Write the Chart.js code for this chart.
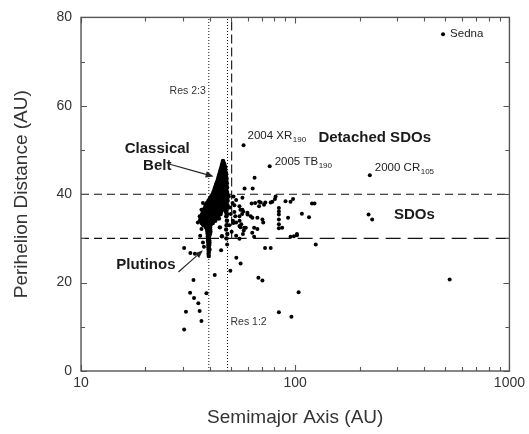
<!DOCTYPE html>
<html><head><meta charset="utf-8">
<script src="https://cdn.jsdelivr.net/npm/chart.js@4/dist/chart.umd.min.js"></script>
<style>html,body{margin:0;padding:0;background:#fff}</style>
</head><body>
<canvas id="c" width="529" height="434"></canvas>
<script>
// ---- data: [semimajor axis a (AU), perihelion distance q (AU)] ----
const classicalBelt = [
 [46.0,47.5],
 [45.8,47.0],[46.4,47.0],
 [45.5,46.5],[46.2,46.5],[46.8,46.5],
 [45.2,46.0],[45.9,46.0],[46.6,46.0],[47.1,46.0],
 [44.9,45.5],[45.6,45.5],[46.3,45.5],[47.0,45.5],
 [44.6,45.0],[45.3,45.0],[46.0,45.0],[46.7,45.0],[47.3,45.0],
 [44.3,44.5],[45.0,44.5],[45.7,44.5],[46.4,44.5],[47.1,44.5],[47.6,44.5],
 [44.0,44.0],[44.7,44.0],[45.4,44.0],[46.1,44.0],[46.8,44.0],[47.5,44.0],
 [43.7,43.5],[44.4,43.5],[45.1,43.5],[45.8,43.5],[46.5,43.5],[47.2,43.5],[47.8,43.5],
 [43.4,43.0],[44.1,43.0],[44.8,43.0],[45.5,43.0],[46.2,43.0],[46.9,43.0],[47.6,43.0],
 [43.0,42.5],[43.7,42.5],[44.4,42.5],[45.1,42.5],[45.8,42.5],[46.5,42.5],[47.2,42.5],[47.9,42.5],
 [42.7,42.0],[43.4,42.0],[44.1,42.0],[44.8,42.0],[45.5,42.0],[46.2,42.0],[46.9,42.0],[47.6,42.0],
 [42.3,41.5],[43.0,41.5],[43.7,41.5],[44.4,41.5],[45.1,41.5],[45.8,41.5],[46.5,41.5],[47.2,41.5],[48.0,41.5],
 [42.0,41.0],[42.7,41.0],[43.4,41.0],[44.1,41.0],[44.8,41.0],[45.5,41.0],[46.2,41.0],[46.9,41.0],[47.6,41.0],
 [41.6,40.5],[42.3,40.5],[43.0,40.5],[43.7,40.5],[44.4,40.5],[45.1,40.5],[45.8,40.5],[46.5,40.5],[47.2,40.5],[48.0,40.5],
 [41.2,40.0],[41.9,40.0],[42.6,40.0],[43.3,40.0],[44.0,40.0],[44.7,40.0],[45.4,40.0],[46.1,40.0],[46.8,40.0],[47.5,40.0],[48.2,40.0],
 [40.6,39.5],[41.3,39.5],[42.0,39.5],[42.7,39.5],[43.4,39.5],[44.1,39.5],[44.8,39.5],[45.5,39.5],[46.2,39.5],[46.9,39.5],[47.6,39.5],
 [40.0,39.0],[40.8,39.0],[41.6,39.0],[42.4,39.0],[43.2,39.0],[44.0,39.0],[44.8,39.0],[45.6,39.0],[46.4,39.0],[47.2,39.0],[48.0,39.0],
 [39.4,38.5],[40.3,38.5],[41.1,38.5],[41.9,38.5],[42.7,38.5],[43.5,38.5],[44.3,38.5],[45.1,38.5],[45.9,38.5],[46.7,38.5],[47.5,38.5],[48.3,38.5],
 [38.8,38.0],[39.6,38.0],[40.5,38.0],[41.3,38.0],[42.1,38.0],[42.9,38.0],[43.7,38.0],[44.5,38.0],[45.3,38.0],[46.1,38.0],[46.9,38.0],[47.7,38.0],
 [38.3,37.5],[39.2,37.5],[40.0,37.5],[40.8,37.5],[41.6,37.5],[42.4,37.5],[43.2,37.5],[44.0,37.5],[44.8,37.5],[45.6,37.5],[46.4,37.5],[47.2,37.5],[48.2,37.5],
 [38.0,37.0],[38.9,37.0],[39.7,37.0],[40.5,37.0],[41.3,37.0],[42.1,37.0],[42.9,37.0],[43.7,37.0],[44.6,37.0],[45.5,37.0],[47.0,37.0],[48.0,37.0],
 [37.5,36.5],[38.4,36.5],[39.3,36.5],[40.1,36.5],[40.9,36.5],[41.7,36.5],[42.5,36.5],[43.3,36.5],[44.2,36.5],[45.2,36.5],[46.5,36.5],[47.8,36.5],
 [37.2,36.0],[38.1,36.0],[39.0,36.0],[39.8,36.0],[40.6,36.0],[41.4,36.0],[42.2,36.0],[43.0,36.0],[43.9,36.0],[45.0,36.0],[47.6,36.0],
 [36.8,35.5],[37.8,35.5],[38.7,35.5],[39.5,35.5],[40.3,35.5],[41.1,35.5],[41.9,35.5],[42.7,35.5],[43.6,35.5],[44.8,35.5],[48.0,35.5],
 [36.5,35.0],[37.5,35.0],[38.5,35.0],[39.3,35.0],[40.1,35.0],[40.9,35.0],[41.7,35.0],[42.6,35.0],[43.5,35.0],[47.7,35.0],
 [36.2,34.5],[37.2,34.5],[38.2,34.5],[39.1,34.5],[39.9,34.5],[40.7,34.5],[41.6,34.5],[42.5,34.5],[44.0,34.5],
 [36.0,34.0],[37.0,34.0],[38.0,34.0],[39.0,34.0],[39.7,34.0],[40.5,34.0],[41.4,34.0],[42.3,34.0],[48.0,34.0],
 [36.6,33.5],[37.8,33.5],[38.8,33.5],[39.5,33.5],[40.3,33.5],[41.2,33.5]
];
const plutinos = [
 [37.3,33.0],[38.6,33.0],[39.4,33.0],[40.2,33.0],[47.8,33.0],
 [38.3,32.5],[39.2,32.5],[40.0,32.5],[44.5,32.5],
 [38.8,32.0],[39.4,32.0],[40.1,32.0],[47.6,32.0],
 [38.9,31.5],[39.5,31.5],[40.2,31.5],
 [39.0,31.0],[39.5,31.0],[40.0,31.0],[48.2,31.0],
 [39.1,30.5],[39.6,30.5],[45.5,30.5],
 [39.2,30.0],[39.6,30.0],[47.8,30.0],
 [39.2,29.5],[39.7,29.5],[39.3,29.0],[39.8,29.0],[39.3,28.5],[39.7,28.5],
 [39.4,28.0],[39.4,27.5],[39.8,27.5],[39.5,27.0],[39.4,26.5],[39.5,26.0]
];
const scatteredDisk = [
 [64.6,43.7],[58.0,41.3],[63.3,41.3],
 [53.0,38.7],[54.9,37.3],[56.7,36.5],[59.8,35.8],[62.6,37.9],[65.0,38.0],[67.8,38.3],[69.0,38.1],
 [72.5,38.1],[76.8,38.1],[78.2,38.3],[80.4,38.9],[81.0,39.5],[90.1,38.4],[95.1,38.3],[97.7,38.9],
 [57.2,36.1],[59.9,35.4],[63.1,34.7],[66.6,34.7],[70.3,34.3],[54.9,35.0],[58.8,32.4],[63.0,31.3],
 [64.3,32.4],[66.6,32.1],[64.3,30.4],[83.9,36.9],[83.9,36.1],[83.9,35.4],[83.9,34.3],[83.9,33.2],
 [83.9,32.3],[86.9,32.4],[92.6,34.7],[107.4,35.6],[116.0,34.8],[119.7,37.9],[123.0,37.9],
 [95.1,30.4],[98.6,30.5],[101.9,31.0],[53.0,33.6],[54.9,32.8],[57.8,32.4],[62.0,35.0],[53.0,30.6],
 [54.9,29.9],[220.0,35.4],[228.7,34.3],[70.9,33.6],[67.8,37.3],[71.5,37.6],[51.5,39.5],[52.0,36.0],
 [51.2,34.0],[56.7,39.2],[55.5,36.5],[56.5,35.5],[55.0,34.0],[56.0,33.2],[55.5,32.5],[57.5,31.8],
 [57.0,31.0],[49.5,37.0],[50.0,35.5],[49.2,33.0],[50.5,31.5],[49.0,39.5],[51.0,38.0],[52.0,37.5],
 [51.5,33.5],[52.5,35.0],
 [37.1,38.0],[36.5,36.5],[35.8,35.0],[35.1,33.6],[36.5,32.1],[36.0,30.6],[37.1,29.1],
 [30.3,27.8],[32.4,26.7],[37.5,28.1],[45.1,27.3],[48.1,28.6],[53.1,25.6],[55.6,24.3],[49.8,22.7],
 [42.1,21.7],[33.5,20.6],[67.3,21.1],[70.3,20.5],[32.3,17.7],[38.5,17.6],[33.7,16.5],[35.3,15.3],
 [30.9,13.4],[35.8,13.6],[36.5,11.3],[30.3,9.4],[103.7,17.8],[83.9,13.3],[96.0,12.3],[76.8,27.8],
 [72.3,27.8],[124.7,28.6],[101.9,30.7],[526.0,20.7],[34.0,26.5]
];
const namedObjects = ["Sedna", "2004 XR", "2005 TB", "2000 CR"];
const namedSubscripts = ["", "190", "190", "105"];
const namedA = [490, 57.4, 76.0, 223];
const namedQ = [76.2, 51.1, 46.3, 44.3];
const resonanceNames = ["Res 2:3", "Res 1:2"];
const resonanceA = [39.5, 48.3];
const detachedBoundaryA = [50.5];
const boundaryQ = [40, 30];
const axisRangeA = [10, 1000];
const axisRangeQ = [0, 80];
const xTickLabels = [10, 100, 1000];
const yTickLabels = [0, 20, 40, 60, 80];
const regionNames = ["Classical\nBelt", "Plutinos", "Detached SDOs", "SDOs"];

// ---- build datasets ----
const toPts = arr => arr.map(p => ({x: p[0], y: p[1]}));
const FONT = "'Liberation Sans', Arial, Helvetica, sans-serif";
const lineDS = (pts, dash, w) => ({type: 'scatter', data: pts, showLine: true, pointRadius: 0,
  borderColor: '#111', borderWidth: w, borderDash: dash, fill: false, order: 2});

const datasets = [
  {data: toPts(classicalBelt), pointRadius: 2.3, backgroundColor: '#000', borderWidth: 0, order: 1},
  {data: toPts(plutinos), pointRadius: 2.2, backgroundColor: '#000', borderWidth: 0, order: 1},
  {data: toPts(scatteredDisk), pointRadius: 2.0, backgroundColor: '#000', borderWidth: 0, order: 1},
  {data: namedA.map((a, i) => ({x: a, y: namedQ[i]})), pointRadius: 2.0, backgroundColor: '#000', borderWidth: 0, order: 1},
  // resonances (dotted)
  ...resonanceA.map(a => lineDS([{x: a, y: axisRangeQ[0]}, {x: a, y: axisRangeQ[1]}], [1, 2], 1)),
  // detached boundary (dashed vertical)
  lineDS([{x: detachedBoundaryA[0], y: boundaryQ[1]}, {x: detachedBoundaryA[0], y: axisRangeQ[1]}], [9, 4], 1.1),
  // q = 40 short dashes
  lineDS([{x: axisRangeA[0], y: boundaryQ[0]}, {x: axisRangeA[1], y: boundaryQ[0]}], [8, 5], 1.1),
  // q = 30 short dashes left, long dashes right
  lineDS([{x: axisRangeA[0], y: boundaryQ[1]}, {x: detachedBoundaryA[0], y: boundaryQ[1]}], [8, 5], 1.1),
  lineDS([{x: detachedBoundaryA[0], y: boundaryQ[1]}, {x: axisRangeA[1], y: boundaryQ[1]}], [15, 7], 1.1)
];

// ---- drawing helpers ----
function arrow(ctx, x1, y1, x2, y2) {
  ctx.save();
  ctx.strokeStyle = '#222'; ctx.fillStyle = '#222'; ctx.lineWidth = 1.1;
  const ang = Math.atan2(y2 - y1, x2 - x1), L = 8, W = 3.2;
  const bx = x2 - L * Math.cos(ang), by = y2 - L * Math.sin(ang);
  ctx.beginPath(); ctx.moveTo(x1, y1); ctx.lineTo(bx, by); ctx.stroke();
  ctx.beginPath(); ctx.moveTo(x2, y2);
  ctx.lineTo(bx + W * Math.sin(ang), by - W * Math.cos(ang));
  ctx.lineTo(bx - W * Math.sin(ang), by + W * Math.cos(ang));
  ctx.closePath(); ctx.fill();
  ctx.restore();
}

const decorPlugin = {
  id: 'decor',
  afterDraw(chart) {
    const ctx = chart.ctx, xs = chart.scales.x, ys = chart.scales.y, ca = chart.chartArea;
    const X = v => xs.getPixelForValue(v), Y = v => ys.getPixelForValue(v);
    ctx.save();
    // frame
    ctx.strokeStyle = '#555'; ctx.lineWidth = 1.4;
    ctx.strokeRect(ca.left, ca.top, ca.right - ca.left, ca.bottom - ca.top);
    // inward ticks
    ctx.lineWidth = 1.1; ctx.beginPath();
    for (let d = 10; d < 1000; d *= 10) {
      for (let m = 1; m <= 10; m++) {
        const v = d * m; if (v > 1000) break;
        const len = (m === 1 || m === 10) ? 6 : 4;
        const px = Math.round(X(v)) + 0.5;
        ctx.moveTo(px, ca.bottom); ctx.lineTo(px, ca.bottom - len);
        ctx.moveTo(px, ca.top); ctx.lineTo(px, ca.top + len);
      }
    }
    for (let q = axisRangeQ[0]; q <= axisRangeQ[1]; q += 10) {
      const len = yTickLabels.includes(q) ? 6 : 4;
      const py = Math.round(Y(q)) + 0.5;
      ctx.moveTo(ca.left, py); ctx.lineTo(ca.left + len, py);
      ctx.moveTo(ca.right, py); ctx.lineTo(ca.right - len, py);
    }
    ctx.stroke();

    // named objects
    ctx.fillStyle = '#222'; ctx.textBaseline = 'middle'; ctx.textAlign = 'left';
    const offs = [[7, 0], [4, -9], [5, -5], [5, -7]];
    namedObjects.forEach((name, i) => {
      const px = X(namedA[i]) + offs[i][0], py = Y(namedQ[i]) + offs[i][1];
      ctx.font = '11.5px ' + FONT;
      ctx.fillText(name, px, py);
      if (namedSubscripts[i]) {
        const w = ctx.measureText(name).width;
        ctx.font = '8px ' + FONT;
        ctx.fillText(namedSubscripts[i], px + w + 0.5, py + 4);
      }
    });

    // resonance labels
    ctx.font = '10.5px ' + FONT; ctx.fillStyle = '#333';
    ctx.textAlign = 'right'; ctx.fillText(resonanceNames[0], X(resonanceA[0]) - 3, Y(63.3));
    ctx.textAlign = 'left'; ctx.fillText(resonanceNames[1], X(resonanceA[1]) + 3, Y(11));

    // region labels
    ctx.font = 'bold 15px ' + FONT; ctx.fillStyle = '#1a1a1a'; ctx.textAlign = 'center';
    const cb = regionNames[0].split('\n');
    ctx.fillText(cb[0], X(22.7), Y(50.2));
    ctx.fillText(cb[1], X(22.7), Y(46.5));
    ctx.fillText(regionNames[1], X(20.1), Y(24));
    ctx.fillText(regionNames[2], X(235), Y(52.7));
    ctx.fillText(regionNames[3], X(360), Y(35.4));

    arrow(ctx, X(25.5), Y(46.9), X(41.6), Y(44.0));
    arrow(ctx, X(28.5), Y(22.4), X(37.1), Y(27.3));
    ctx.restore();
  }
};

new Chart(document.getElementById('c'), {
  type: 'scatter',
  data: {datasets},
  options: {
    responsive: false, animation: false, devicePixelRatio: 1,
    layout: {padding: {top: 11, right: 16, left: 0, bottom: 0}},
    plugins: {legend: {display: false}, tooltip: {enabled: false}},
    scales: {
      x: {
        type: 'logarithmic', min: axisRangeA[0], max: axisRangeA[1],
        grid: {display: false, drawTicks: false}, border: {display: false},
        afterFit: s => { s.height = 63; },
        ticks: {
          autoSkip: false, maxRotation: 0, padding: 4, color: '#333',
          font: {family: FONT, size: 14},
          callback: v => xTickLabels.includes(v) ? String(v) : ''
        },
        title: {display: true, text: 'Semimajor Axis (AU)', color: '#333',
          font: {family: FONT, size: 19}, padding: {top: 0, bottom: 4.6}}
      },
      y: {
        min: axisRangeQ[0], max: axisRangeQ[1],
        grid: {display: false, drawTicks: false}, border: {display: false},
        afterFit: s => { s.width = 81; },
        ticks: {stepSize: 20, padding: 9, color: '#333', font: {family: FONT, size: 14},
          callback: v => yTickLabels.includes(v) ? String(v) : ''},
        title: {display: true, text: 'Perihelion Distance (AU)', color: '#333',
          font: {family: FONT, size: 19}, padding: {top: 10.6, bottom: 0}}
      }
    }
  },
  plugins: [decorPlugin]
});
</script>
</body></html>
